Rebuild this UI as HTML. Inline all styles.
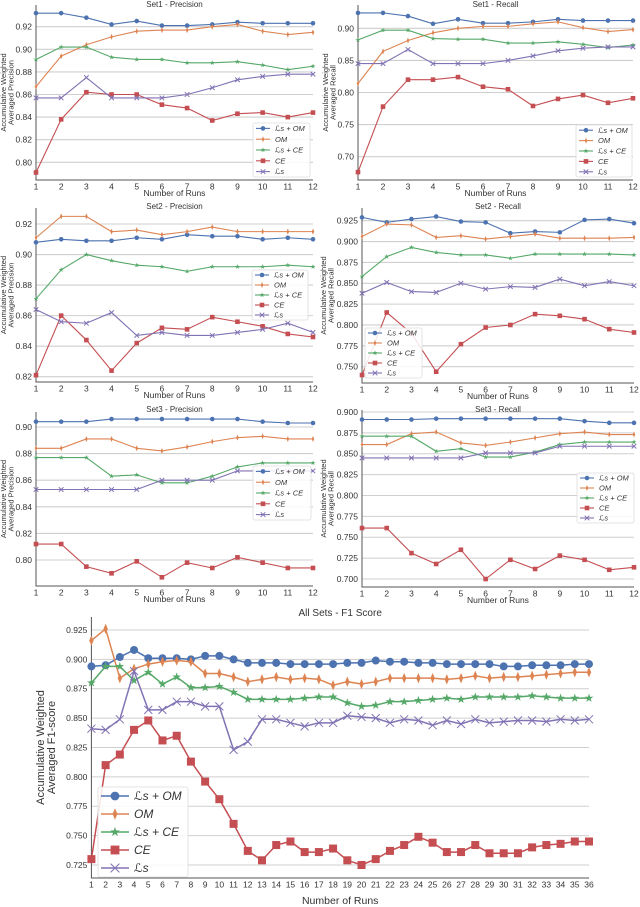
<!DOCTYPE html>
<html><head><meta charset="utf-8">
<style>
html,body{margin:0;padding:0;background:#fff;}
svg{display:block;font-family:"Liberation Sans","DejaVu Sans",sans-serif;}
</style></head>
<body>
<svg id="chart" width="640" height="907" viewBox="0 0 640 907" xmlns="http://www.w3.org/2000/svg"></svg>
<script>
// ---- data ----
const seriesNames = ["ℒs + OM","OM","ℒs + CE","CE","ℒs"];
const runs12 = [1,2,3,4,5,6,7,8,9,10,11,12];
const runs36 = [];
for (let i=1;i<=36;i++) runs36.push(i);

const set1PrecLsOM = [.932,.932,.928,.922,.925,.921,.921,.922,.924,.923,.923,.923];
const set1PrecOM   = [.867,.894,.904,.911,.916,.917,.917,.920,.922,.916,.913,.915];
const set1PrecLsCE = [.891,.902,.902,.893,.891,.891,.888,.888,.889,.886,.882,.885];
const set1PrecCE   = [.791,.838,.862,.860,.860,.851,.848,.837,.843,.844,.840,.844];
const set1PrecLs   = [.857,.857,.875,.857,.857,.857,.860,.866,.873,.876,.878,.878];

const set1RecLsOM = [.924,.924,.919,.907,.914,.908,.908,.910,.914,.912,.912,.912];
const set1RecOM   = [.814,.864,.881,.893,.900,.903,.903,.907,.910,.901,.895,.898];
const set1RecLsCE = [.882,.897,.897,.884,.883,.883,.877,.877,.879,.875,.870,.874];
const set1RecCE   = [.676,.778,.820,.820,.824,.809,.805,.779,.790,.796,.784,.791];
const set1RecLs   = [.845,.845,.867,.845,.845,.845,.850,.857,.865,.869,.871,.871];

const set2PrecLsOM = [.908,.910,.909,.909,.911,.910,.913,.912,.912,.910,.911,.910];
const set2PrecOM   = [.911,.925,.925,.915,.916,.913,.915,.918,.915,.915,.915,.915];
const set2PrecLsCE = [.871,.890,.900,.896,.893,.892,.889,.892,.892,.892,.893,.892];
const set2PrecCE   = [.821,.860,.844,.824,.842,.852,.851,.859,.856,.853,.848,.846];
const set2PrecLs   = [.864,.856,.855,.862,.847,.849,.847,.847,.849,.851,.855,.849];

const set2RecLsOM = [.929,.923,.927,.930,.924,.923,.910,.912,.911,.926,.927,.922];
const set2RecOM   = [.906,.921,.920,.905,.907,.903,.906,.909,.904,.904,.904,.905];
const set2RecLsCE = [.858,.882,.893,.887,.884,.884,.880,.885,.885,.885,.885,.884];
const set2RecCE   = [.740,.815,.790,.744,.777,.797,.800,.813,.811,.807,.795,.791];
const set2RecLs   = [.838,.851,.840,.839,.850,.843,.846,.845,.855,.847,.852,.847];

const set3PrecLsOM = [.904,.904,.904,.906,.906,.906,.906,.906,.906,.904,.903,.903];
const set3PrecOM   = [.884,.884,.891,.891,.884,.882,.885,.889,.892,.893,.891,.891];
const set3PrecLsCE = [.877,.877,.877,.863,.864,.858,.858,.863,.870,.873,.873,.873];
const set3PrecCE   = [.812,.812,.795,.790,.799,.787,.798,.794,.802,.798,.794,.794];
const set3PrecLs   = [.853,.853,.853,.853,.853,.860,.860,.860,.867,.867,.867,.867];

const set3RecLsOM = [.891,.891,.891,.892,.892,.892,.892,.892,.892,.889,.887,.887];
const set3RecOM   = [.861,.861,.874,.876,.863,.860,.864,.869,.874,.876,.873,.873];
const set3RecLsCE = [.871,.871,.871,.853,.856,.846,.846,.852,.861,.864,.864,.864];
const set3RecCE   = [.761,.761,.731,.718,.735,.700,.723,.712,.728,.723,.711,.714];
const set3RecLs   = [.845,.845,.845,.845,.845,.851,.851,.851,.859,.859,.859,.859];

const f1LsOM = [.894,.895,.902,.908,.901,.901,.901,.900,.903,.903,.900,.897,.897,.897,.896,.896,.896,.896,.897,.897,.899,.898,.898,.897,.897,.896,.896,.896,.896,.894,.894,.895,.895,.895,.896,.896];
const f1OM   = [.916,.926,.884,.892,.896,.898,.899,.898,.888,.888,.885,.881,.883,.885,.883,.884,.883,.878,.881,.879,.881,.884,.884,.884,.884,.883,.884,.886,.884,.885,.885,.886,.887,.888,.889,.889];
const f1LsCE = [.880,.894,.894,.882,.889,.879,.885,.876,.876,.877,.872,.866,.866,.866,.866,.867,.868,.868,.863,.860,.861,.864,.864,.865,.866,.867,.866,.868,.868,.868,.868,.869,.868,.867,.867,.867];
const f1CE   = [.730,.810,.819,.840,.848,.831,.835,.813,.796,.781,.760,.737,.729,.742,.745,.736,.736,.739,.729,.725,.730,.737,.742,.749,.744,.736,.736,.742,.735,.735,.735,.740,.742,.743,.745,.745];
const f1Ls   = [.841,.840,.849,.890,.857,.857,.864,.864,.860,.860,.823,.830,.849,.849,.846,.843,.846,.846,.852,.851,.850,.846,.849,.848,.844,.848,.845,.849,.846,.847,.848,.848,.847,.849,.848,.849];

const tickPrec1 = [0.80,0.82,0.84,0.86,0.88,0.90,0.92];
const tickRec1  = [0.70,0.75,0.80,0.85,0.90];
const tickPrec2 = [0.82,0.84,0.86,0.88,0.90,0.92];
const tickRec2  = [0.750,0.775,0.800,0.825,0.850,0.875,0.900,0.925];
const tickPrec3 = [0.80,0.82,0.84,0.86,0.88,0.90];
const tickRec3  = [0.700,0.725,0.750,0.775,0.800,0.825,0.850,0.875,0.900];
const tickF1    = [0.725,0.750,0.775,0.800,0.825,0.850,0.875,0.900,0.925];

// ---- rendering ----
const NS="http://www.w3.org/2000/svg";
const svg=document.getElementById('chart');
const colors=["#4c72b0","#dd8452","#55a868","#c44e52","#8172b3"];
const markers=["circle","diamond","star","square","x"];
function mk(tag,attrs,parent){const e=document.createElementNS(NS,tag);for(const k in attrs)e.setAttribute(k,attrs[k]);(parent||svg).appendChild(e);return e;}

function marker(g,type,x,y,s,c){
  let e;
  if(type==="circle"){e=mk('circle',{cx:x,cy:y,r:s,fill:c},g);}
  else if(type==="square"){e=mk('rect',{x:x-s,y:y-s,width:2*s,height:2*s,fill:c},g);}
  else if(type==="diamond"){e=mk('path',{d:`M${x},${y-s*1.3}L${x+s*0.55},${y}L${x},${y+s*1.3}L${x-s*0.55},${y}Z`,fill:c},g);}
  else if(type==="star"){let d="";for(let i=0;i<10;i++){const r=i%2?s*0.45:s*1.15;const a=-Math.PI/2+i*Math.PI/5;d+=(i?"L":"M")+(x+r*Math.cos(a)).toFixed(2)+","+(y+r*Math.sin(a)).toFixed(2);}e=mk('path',{d:d+"Z",fill:c},g);}
  else {e=mk('path',{d:`M${x-s},${y-s}L${x+s},${y+s}M${x-s},${y+s}L${x+s},${y-s}`,stroke:c,'stroke-width':1,fill:'none'},g);}
  return e;
}

function panel(p){
  const g=mk('g',{});
  
  
  const xs=v=>p.x0+(v-p.xmin)/(p.xmax-p.xmin)*(p.x1-p.x0);
  const ys=v=>p.yv1+(v-p.v1)/(p.v2-p.v1)*(p.yv2-p.yv1);
  // grid + y ticks
  p.ticks.forEach(t=>{
    const y=ys(t);
    const gl=mk('line',{x1:p.x0,x2:p.x1,y1:y,y2:y,stroke:'#cfcfcf','stroke-width':1.1},g);
    
    
    const tl=mk('text',{x:p.x0-4,y:y+p.fs*0.35,'text-anchor':'end','font-size':p.fs,fill:'#333'},g);
    tl.textContent=t.toFixed(p.dec);
    
    
  });
  // x tick labels
  p.xcats.forEach(v=>{
    const tl=mk('text',{x:xs(v),y:p.yb+p.fs+1,'text-anchor':'middle','font-size':p.fs,fill:'#333'},g);
    tl.textContent=v;
    
    
  });
  // axes
  const ax=mk('path',{d:`M${p.x0},${p.yt}L${p.x0},${p.yb}L${p.x1},${p.yb}`,stroke:'#555','stroke-width':1,fill:'none'},g);
  
  
  // series
  p.series.forEach((arr,si)=>{
    const sg=mk('g',{},g);
    
    
    const pts=arr.map((v,i)=>xs(p.xcats[i]).toFixed(2)+","+ys(v).toFixed(2)).join(" ");
    mk('polyline',{points:pts,fill:'none',stroke:colors[si],'stroke-width':p.lw},sg);
    arr.forEach((v,i)=>{
      const m=marker(sg,markers[si],xs(p.xcats[i]),ys(v),p.ms,colors[si]);
      
      
    });
  });
  // title
  const t=mk('text',{x:(p.x0+p.x1)/2,y:p.ty,'text-anchor':'middle','font-size':p.tfs,fill:'#333'},g);
  t.textContent=p.title;
  
  
  // x label
  const xl=mk('text',{x:(p.x0+p.x1)/2,y:p.xly,'text-anchor':'middle','font-size':p.lfs,fill:'#333'},g);
  xl.textContent="Number of Runs";
  
  
  // y label
  const cy=(p.yt+p.yb)/2;
  const yl=mk('text',{transform:`translate(${p.ylx},${cy}) rotate(-90)`,'text-anchor':'middle','font-size':p.ylfs,fill:'#333'},g);
  
  
  const l1=mk('tspan',{x:0,dy:0},yl);l1.textContent="Accumulative Weighted";
  const l2=mk('tspan',{x:0,dy:p.ylfs*1.0},yl);l2.textContent=p.ylab;
  // legend
  const L=p.leg;
  const lg=mk('g',{},g);
  
  
  mk('rect',{x:L.x,y:L.y,width:L.w,height:L.h,fill:'#fff','fill-opacity':0.85,stroke:'#ddd','stroke-width':0.8,rx:2},lg);
  const rowH=L.h/5;
  seriesNames.forEach((n,i)=>{
    const ey=L.y+rowH*(i+0.5);
    const eg=mk('g',{},lg);
    
    
    mk('line',{x1:L.x+3,x2:L.x+3+L.sw,y1:ey,y2:ey,stroke:colors[i],'stroke-width':p.lw},eg);
    marker(eg,markers[i],L.x+3+L.sw/2,ey,p.ms*(L.msk||1),colors[i]);
    const tx=mk('text',{x:L.x+L.sw+8,y:ey+L.fs*0.35,'font-size':L.fs,'font-style':'italic',fill:'#333'},eg);
    tx.textContent=n;
  });
}

const small={fs:8.5,tfs:8,lfs:8.5,ylfs:7.5,lw:1.1,ms:2.3,xmin:1,xmax:12};
panel(Object.assign({},small,{name:'set1-precision-chart',title:'Set1 - Precision',x0:36,x1:313,yt:5,yb:180,v1:0.92,yv1:26.7,v2:0.80,yv2:162.3,ticks:tickPrec1,dec:2,xcats:runs12,series:[set1PrecLsOM,set1PrecOM,set1PrecLsCE,set1PrecCE,set1PrecLs],ty:7,xly:196,ylx:6,ylab:'Averaged Precision',leg:{x:253,y:123,w:57,h:54,sw:14,fs:7.5}}));
panel(Object.assign({},small,{name:'set1-recall-chart',title:'Set1 - Recall',x0:358,x1:633,yt:5,yb:180,v1:0.90,yv1:28.3,v2:0.70,yv2:156.7,ticks:tickRec1,dec:2,xcats:runs12,series:[set1RecLsOM,set1RecOM,set1RecLsCE,set1RecCE,set1RecLs],ty:7,xly:196,ylx:328,ylab:'Averaged Recall',leg:{x:576,y:125,w:56,h:52,sw:14,fs:7.5}}));
panel(Object.assign({},small,{name:'set2-precision-chart',title:'Set2 - Precision',x0:36,x1:313,yt:208,yb:382,v1:0.92,yv1:224,v2:0.82,yv2:376.7,ticks:tickPrec2,dec:2,xcats:runs12,series:[set2PrecLsOM,set2PrecOM,set2PrecLsCE,set2PrecCE,set2PrecLs],ty:209,xly:398,ylx:6,ylab:'Averaged Precision',leg:{x:252,y:270,w:56,h:50,sw:14,fs:7.5}}));
panel(Object.assign({},small,{name:'set2-recall-chart',title:'Set2 - Recall',x0:362,x1:634,yt:208,yb:383,v1:0.925,yv1:220.7,v2:0.750,yv2:366.7,ticks:tickRec2,dec:3,xcats:runs12,series:[set2RecLsOM,set2RecOM,set2RecLsCE,set2RecCE,set2RecLs],ty:209,xly:399,ylx:326,ylab:'Averaged Recall',leg:{x:365,y:328,w:57,h:50,sw:14,fs:7.5}}));
panel(Object.assign({},small,{name:'set3-precision-chart',title:'Set3 - Precision',x0:36,x1:313,yt:412,yb:586,v1:0.90,yv1:427,v2:0.80,yv2:560,ticks:tickPrec3,dec:2,xcats:runs12,series:[set3PrecLsOM,set3PrecOM,set3PrecLsCE,set3PrecCE,set3PrecLs],ty:412,xly:602,ylx:6,ylab:'Averaged Precision',leg:{x:253,y:466,w:58,h:54,sw:14,fs:7.5}}));
panel(Object.assign({},small,{name:'set3-recall-chart',title:'Set3 - Recall',x0:362,x1:634,yt:410,yb:587,v1:0.900,yv1:412,v2:0.700,yv2:579,ticks:tickRec3,dec:3,xcats:runs12,series:[set3RecLsOM,set3RecOM,set3RecLsCE,set3RecCE,set3RecLs],ty:412,xly:603,ylx:326,ylab:'Averaged Recall',leg:{x:577,y:473,w:57,h:50,sw:14,fs:7.5}}));
panel({name:'all-sets-f1-chart',title:'All Sets - F1 Score',fs:8.5,tfs:10,lfs:10.5,ylfs:11,lw:1.5,ms:4,xmin:1,xmax:36,x0:91.4,x1:589,yt:617,yb:878,v1:0.925,yv1:630,v2:0.725,yv2:865,ticks:tickF1,dec:3,xcats:runs36,series:[f1LsOM,f1OM,f1LsCE,f1CE,f1Ls],ty:616,xly:904,ylx:44,ylab:'Averaged F1-score',leg:{x:98,y:787,w:90,h:90,sw:28,fs:12,msk:1.1}});
</script>
</body></html>
